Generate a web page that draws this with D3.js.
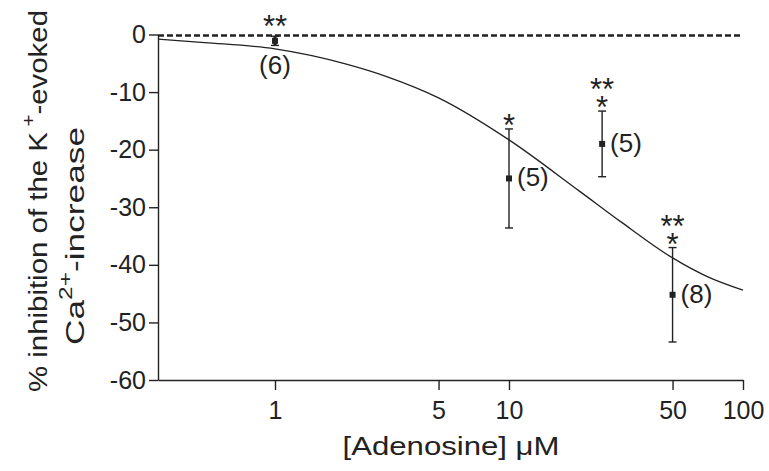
<!DOCTYPE html>
<html>
<head>
<meta charset="utf-8">
<script src="https://cdn.jsdelivr.net/npm/d3@7"></script>
<style>
  body { margin: 0; background: #fff; }
  text { font-family: Arial, "Liberation Sans", sans-serif; fill: #222; }
</style>
</head>
<body>
<div id="display"></div>
<script>
// adenosine concentration (uM), mean inhibition (%), s.e.m.
const concentrations = [1, 10, 25, 50]
const inhibition = [-1.1, -25, -19, -45.2]
const sem = [0.8, 8.6, 5.7, 8.2]
const nLabels = ["(6)", "(5)", "(5)", "(8)"]
const stars = [["**"], ["*"], ["**", "*"], ["**", "*"]]

// fitted curve
const fitX = [0.316, 0.5, 1, 2, 3, 5, 10, 20, 30, 50, 70, 100]
const fitY = [-0.8, -1.4, -2.5, -5.1, -7.3, -11, -18.3, -27.2, -32.5, -38.8, -42, -44.4]

const xTicks = [1, 5, 10, 50, 100]
const yTicks = [0, -10, -20, -30, -40, -50, -60]

function chart(parentNode)
{
  let width = 769
  let height = 471
  let x = d3.scaleLog([Math.pow(10, -0.5), 100], [158, 743])
  let y = d3.scaleLinear([-60, 0], [380, 34.5])
  let ink = "#222"

  const svg = d3.create("svg")
      .attr("width", width)
      .attr("height", height)
      .attr("viewBox", [0, 0, width, height])

  // zero line
  svg.append("line")
      .attr("x1", x.range()[0]).attr("x2", x.range()[1])
      .attr("y1", y(0) + 1).attr("y2", y(0) + 1)
      .attr("stroke", ink)
      .attr("stroke-width", 2.5)
      .attr("stroke-dasharray", "6,3")

  const xAxis = svg.append("g")
      .attr("transform", `translate(0,${y(-60)})`)
      .call(d3.axisBottom(x).tickValues(xTicks).tickFormat(d => String(d))
        .tickSize(10).tickSizeOuter(0).tickPadding(11))
  const yAxis = svg.append("g")
      .attr("transform", `translate(${x.range()[0]},0)`)
      .call(d3.axisLeft(y).tickValues(yTicks).tickFormat(d => String(d))
        .tickSize(9).tickSizeOuter(0).tickPadding(3))

  for (const g of [xAxis, yAxis]) {
    g.selectAll("path, line").attr("stroke", ink).attr("stroke-width", 1.4)
    g.selectAll("text").attr("font-size", 25).attr("fill", ink)
      .style("font-family", "Arial, 'Liberation Sans', sans-serif")
  }

  // curve
  const line = d3.line()
      .x((d, i) => x(fitX[i]))
      .y(d => y(d))
      .curve(d3.curveMonotoneX)
  svg.append("path")
      .attr("d", line(fitY))
      .attr("fill", "none")
      .attr("stroke", ink)
      .attr("stroke-width", 1.3)

  const pts = svg.append("g")
    .selectAll("g")
    .data(concentrations)
    .join("g")
      .attr("transform", (d, i) => `translate(${x(d)},0)`)

  pts.append("line")
      .attr("y1", (d, i) => y(inhibition[i] + sem[i]))
      .attr("y2", (d, i) => y(inhibition[i] - sem[i]))
      .attr("stroke", ink)
      .attr("stroke-width", (d, i) => i === 0 ? 3 : 1.4)
  for (const s of [1, -1]) {
    pts.append("line")
        .attr("x1", -4).attr("x2", 4)
        .attr("y1", (d, i) => y(inhibition[i] + s * sem[i]))
        .attr("y2", (d, i) => y(inhibition[i] + s * sem[i]))
        .attr("stroke", ink)
        .attr("stroke-width", 1.4)
  }
  pts.append("rect")
      .attr("x", -3).attr("width", 6)
      .attr("y", (d, i) => y(inhibition[i]) - 3).attr("height", 6)
      .attr("fill", ink)

  pts.append("text")
      .attr("font-size", 26)
      .attr("text-anchor", (d, i) => i === 0 ? "middle" : "start")
      .attr("x", (d, i) => i === 0 ? 0 : 8)
      .attr("y", (d, i) => i === 0 ? 74 : y(inhibition[i]) + 8)
      .text((d, i) => nLabels[i])

  pts.each(function(d, i) {
    const top = i === 0 ? 19 : y(inhibition[i] + sem[i]) - 11
    stars[i].slice().reverse().forEach((s, k) => {
      d3.select(this).append("text")
          .attr("font-size", 31)
          .attr("text-anchor", "middle")
          .attr("y", top - k * 18 + 18)
          .text(s)
    })
  })

  // axis titles
  svg.append("text")
      .attr("x", 451).attr("y", 455)
      .attr("font-size", 25)
      .attr("text-anchor", "middle")
      .attr("textLength", 217)
      .attr("lengthAdjust", "spacingAndGlyphs")
      .text("[Adenosine] \u03bcM")

  const t1 = svg.append("text")
      .attr("transform", "translate(47,201) rotate(-90)")
      .attr("font-size", 26)
      .attr("text-anchor", "middle")
      .attr("textLength", 382)
      .attr("lengthAdjust", "spacingAndGlyphs")
  t1.append("tspan").text("% inhibition of the K")
  t1.append("tspan").attr("font-size", 18).attr("dy", -12).text(" +")
  t1.append("tspan").attr("dy", 12).text("-evoked")

  const t2 = svg.append("text")
      .attr("transform", "translate(84,236) rotate(-90)")
      .attr("font-size", 26)
      .attr("text-anchor", "middle")
      .attr("textLength", 218)
      .attr("lengthAdjust", "spacingAndGlyphs")
  t2.append("tspan").text("Ca")
  t2.append("tspan").attr("font-size", 18).attr("dy", -12).text("2+")
  t2.append("tspan").attr("dy", 12).text("-increase")

  parentNode.appendChild(svg.node())
}

document.addEventListener("DOMContentLoaded", () => {
    chart(document.getElementById("display"));
})
</script>
</body>
</html>
